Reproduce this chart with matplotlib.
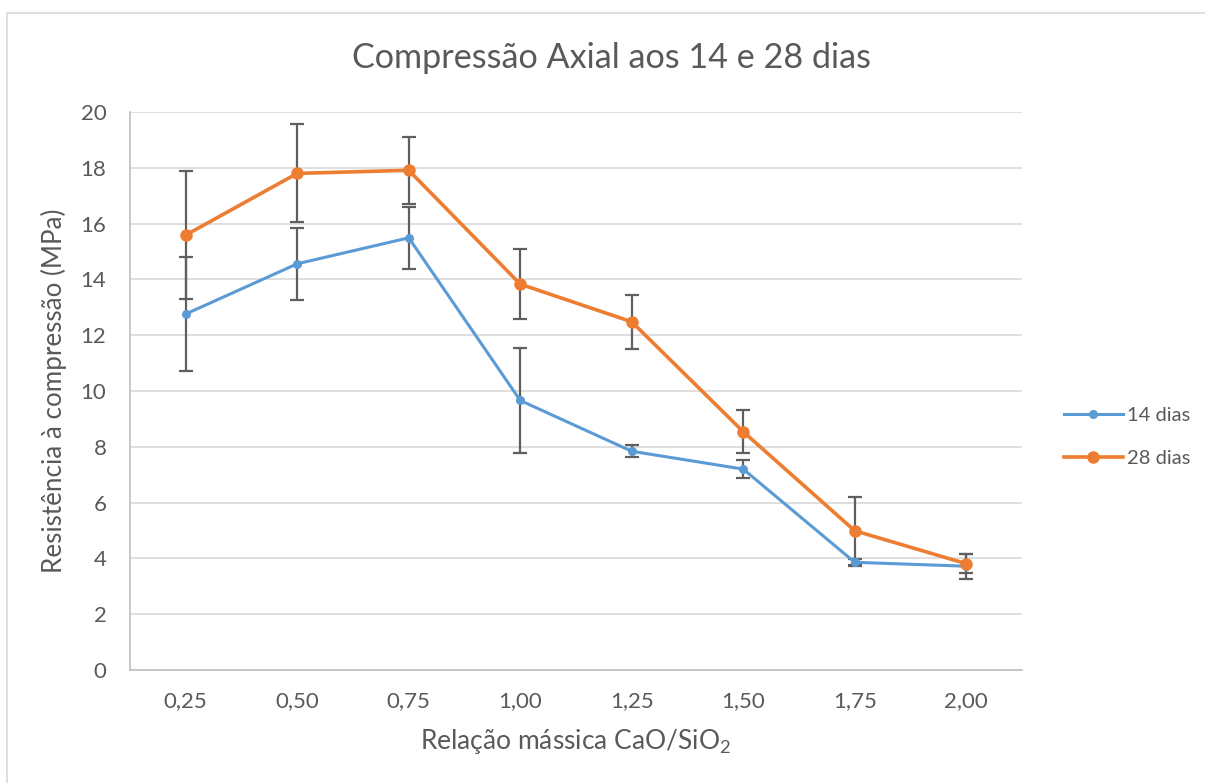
import matplotlib
matplotlib.use("Agg")
import matplotlib.pyplot as plt
from matplotlib.patches import Rectangle
import numpy as np

plt.rcParams['font.family'] = ['Lato', 'DejaVu Sans']
plt.rcParams['mathtext.fontset'] = 'custom'
plt.rcParams['mathtext.rm'] = 'Lato'
plt.rcParams['mathtext.default'] = 'regular'

# Relação CaO/SiO2 (categorias do eixo x)
categorias = ['0,25', '0,50', '0,75', '1,00', '1,25', '1,50', '1,75', '2,00']

# Resistência média (MPa) e desvio padrão
res_14 = [12.76, 14.56, 15.49, 9.66, 7.84, 7.20, 3.86, 3.72]
err_14 = [2.05, 1.30, 1.12, 1.87, 0.22, 0.32, 0.12, 0.45]
res_28 = [15.59, 17.80, 17.91, 13.83, 12.48, 8.54, 4.99, 3.81]
err_28 = [2.31, 1.76, 1.20, 1.25, 0.96, 0.77, 1.22, 0.34]

texto = '#595959'
cor_14 = '#5B9BD5'
cor_28 = '#ED7D31'

fig = plt.figure(figsize=(12.05, 7.83), dpi=100)
ax = fig.add_axes([130 / 1205, 1 - 670 / 783, 892 / 1205, 558 / 783])

# moldura externa do gráfico
fig.patches.append(Rectangle((7 / 1205, -0.05), 1.1, 1 - 13 / 783 + 0.05,
                             transform=fig.transFigure, fill=False,
                             edgecolor='#D9D9D9', linewidth=1.2))

x = np.arange(len(categorias))

for y, e in [(res_14, err_14), (res_28, err_28)]:
    ax.errorbar(x, y, yerr=e, fmt='none', ecolor='#5F5F5F', elinewidth=1.6,
                capsize=4.8, capthick=1.6, zorder=2)

ax.plot(x, res_14, '-o', color=cor_14, linewidth=2.2, markersize=5.5,
        label='14 dias', zorder=3)
ax.plot(x, res_28, '-o', color=cor_28, linewidth=2.6, markersize=8,
        label='28 dias', zorder=4)

ax.set_xlim(-0.5, len(categorias) - 0.5)
ax.set_ylim(0, 20)
ax.set_yticks(range(0, 21, 2))
ax.set_xticks(x)
ax.set_xticklabels(categorias)
ax.yaxis.grid(True, color='#D9D9D9', linewidth=1.2, zorder=0)
ax.set_axisbelow(True)
ax.tick_params(length=0, labelsize=16, labelcolor=texto)
ax.tick_params(axis='x', pad=15)
ax.tick_params(axis='y', pad=17)

for lado in ['top', 'right']:
    ax.spines[lado].set_visible(False)
for lado in ['left', 'bottom']:
    ax.spines[lado].set_color('#BFBFBF')
    ax.spines[lado].set_linewidth(1.2)

# título centrado na área total do gráfico (inclui a legenda)
fig.text(612 / 1205, 1 - 58 / 783, 'Compressão Axial aos 14 e 28 dias',
         fontsize=24.6, color=texto, ha='center', va='center')
ax.set_xlabel('Relação mássica CaO/SiO$_2$', fontsize=19, color=texto, labelpad=12)
ax.set_ylabel('Resistência à compressão (MPa)', fontsize=18.7, color=texto, labelpad=10)

ax.legend(loc='center left', bbox_to_anchor=(1046 / 1205, 1 - 437 / 783),
          bbox_transform=fig.transFigure, frameon=False, fontsize=14.5,
          handlelength=2.9, labelspacing=1.25, handletextpad=0.2,
          labelcolor=texto)

fig.savefig('out.png', dpi=100)
